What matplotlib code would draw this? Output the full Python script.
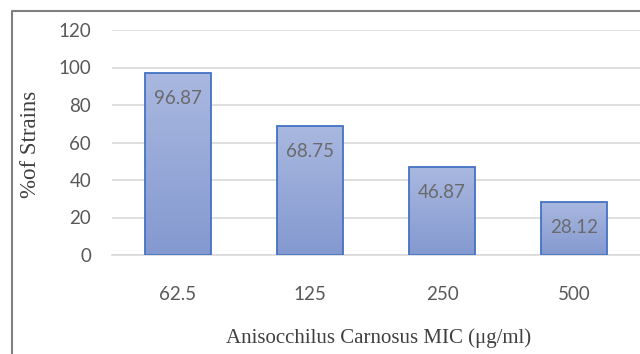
import numpy as np
import matplotlib
matplotlib.use("Agg")
from matplotlib import pyplot as plt
from matplotlib.lines import Line2D
from matplotlib.colors import LinearSegmentedColormap

# MIC concentrations and share of strains inhibited
mic_labels = ['62.5', '125', '250', '500']
pct_strains = [96.87, 68.75, 46.87, 28.12]
y_ticks = [0, 20, 40, 60, 80, 100, 120]

tick_grey = '#595959'
grid_grey = '#d9d9d9'

fig = plt.figure(figsize=(6.4, 3.54), dpi=100)
ax = fig.add_axes([112/640, 1 - 255/354, 528/640, 225/354])

x = np.arange(len(mic_labels))
bars = ax.bar(x, pct_strains, width=0.5, color='none', edgecolor='#4472c4',
              linewidth=1.3, zorder=3)

# vertical gradient fill, light at the top and darker near the base
grad = LinearSegmentedColormap.from_list('barfill', ['#8499d0', '#a9b8e0'])
for b in bars:
    x0, y0 = b.get_x(), b.get_y()
    w, h = b.get_width(), b.get_height()
    img = ax.imshow(np.linspace(0, 1, 100).reshape(-1, 1), cmap=grad,
                    origin='lower', aspect='auto',
                    extent=[x0, x0 + w, y0, y0 + h], zorder=2)
    img.set_clip_path(b)

for xi, v in zip(x, pct_strains):
    ax.annotate('%.2f' % v, (xi, v), xytext=(0, -18), textcoords='offset points',
                ha='center', va='center', fontsize=13.5, family='Lato',
                color='#6a6a6a', zorder=4)

ax.set_xlim(-0.5, len(mic_labels) - 0.5)
ax.set_ylim(0, 120)
ax.set_yticks(y_ticks)
ax.set_xticks(x)
ax.set_xticklabels(mic_labels)
ax.yaxis.grid(True, color=grid_grey, linewidth=1.2, zorder=0)
ax.set_axisbelow(True)
for s in ['top', 'right', 'left']:
    ax.spines[s].set_visible(False)
ax.spines['bottom'].set_color(grid_grey)
ax.spines['bottom'].set_linewidth(1.2)
ax.tick_params(axis='both', length=0, labelsize=13.5, labelcolor=tick_grey)
ax.tick_params(axis='y', pad=15)
ax.tick_params(axis='x', pad=22)
for lbl in ax.get_xticklabels() + ax.get_yticklabels():
    lbl.set_family('Lato')
ax.set_xlim(-0.5, len(mic_labels) - 0.5)

fig.text(379/640, 1 - 338/354, 'Anisocchilus Carnosus MIC (\u03bcg/ml)',
         ha='center', va='center', fontsize=15, family='Liberation Serif',
         color='#404040')
fig.text(31/640, 1 - 144/354, '%of Strains', rotation=90,
         ha='center', va='center', fontsize=16.5, family='Liberation Serif',
         color='#404040')

# chart frame, only its left and top edges are inside the image
bx, by = 12/640, 1 - 11/354
fig.add_artist(Line2D([bx, bx, 1.0], [0.0, by, by], transform=fig.transFigure,
                      color='#7f7f7f', linewidth=1.5))

fig.savefig('out.png', dpi=100)
